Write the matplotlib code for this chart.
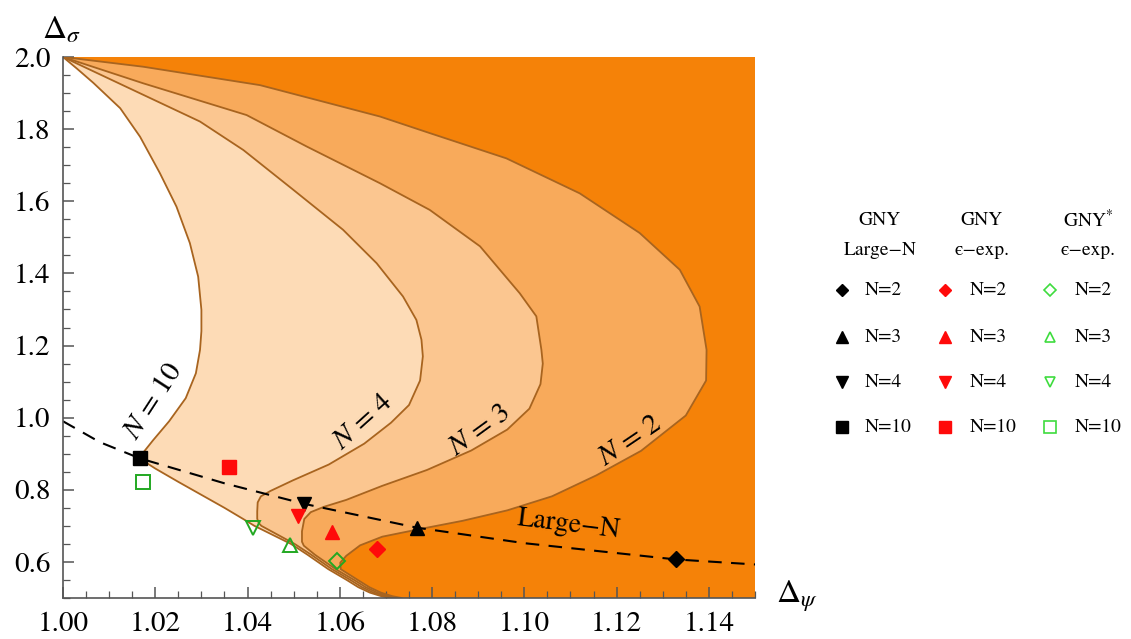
import matplotlib
matplotlib.use('Agg')
import matplotlib.pyplot as plt

plt.rcParams['mathtext.fontset'] = 'stix'
plt.rcParams['font.family'] = ['STIXGeneral', 'DejaVu Serif']

# ---------------- data ----------------
# bootstrap boundary curves (upper branch, then lower branch down to the axis)
n10_x = [1.0000, 1.0030, 1.0066, 1.0124, 1.0167, 1.0210, 1.0246, 1.0275, 1.0293, 1.0300,
         1.0300, 1.0297, 1.0288, 1.0266, 1.0230, 1.0195, 1.0175, 1.0167,
         1.0200, 1.0250, 1.0300, 1.0350, 1.0392, 1.0415, 1.0494, 1.0530, 1.0575, 1.0615,
         1.0640, 1.0665, 1.0690, 1.0710]
n10_y = [2.000, 1.968, 1.928, 1.858, 1.779, 1.678, 1.585, 1.484, 1.391, 1.299,
         1.240, 1.188, 1.123, 1.054, 0.990, 0.937, 0.905, 0.886,
         0.859, 0.822, 0.786, 0.750, 0.718, 0.700, 0.650, 0.620, 0.580, 0.550,
         0.530, 0.515, 0.505, 0.500]

n4_x = [1.0000, 1.0297, 1.0391, 1.0499, 1.0607, 1.0680, 1.0737, 1.0766, 1.0777, 1.0780,
        1.0774, 1.0750, 1.0711, 1.0653, 1.0576, 1.0498, 1.0450, 1.0429,
        1.0422, 1.0421, 1.0421, 1.0424, 1.0430, 1.0502, 1.0538, 1.0583, 1.0623, 1.0648,
        1.0673, 1.0698, 1.0718]
n4_y = [2.000, 1.821, 1.742, 1.632, 1.521, 1.428, 1.336, 1.271, 1.216, 1.170,
        1.103, 1.035, 0.986, 0.928, 0.870, 0.826, 0.797, 0.782,
        0.765, 0.740, 0.720, 0.708, 0.700, 0.650, 0.620, 0.580, 0.550, 0.530,
        0.515, 0.505, 0.500]

n3_x = [1.0000, 1.0174, 1.0398, 1.0528, 1.0687, 1.0795, 1.0904, 1.0990, 1.1026, 1.1037,
        1.1040, 1.1035, 1.1011, 1.0963, 1.0885, 1.0789, 1.0692, 1.0614, 1.0566, 1.0537,
        1.0523, 1.0518, 1.0518, 1.0522, 1.0546, 1.0591, 1.0631, 1.0656, 1.0681, 1.0706,
        1.0726]
n3_y = [2.000, 1.927, 1.839, 1.752, 1.650, 1.576, 1.475, 1.345, 1.281, 1.188,
        1.150, 1.093, 1.025, 0.967, 0.909, 0.855, 0.811, 0.772, 0.753, 0.738,
        0.719, 0.685, 0.656, 0.645, 0.620, 0.580, 0.550, 0.530, 0.515, 0.505,
        0.500]

n2_x = [1.0000, 1.0174, 1.0427, 1.0687, 1.0795, 1.0961, 1.1120, 1.1250, 1.1337, 1.1380,
        1.1395, 1.1394, 1.1350, 1.1253, 1.1156, 1.1060, 1.0963, 1.0866, 1.0769, 1.0692,
        1.0644, 1.0614, 1.0601, 1.0602, 1.0639, 1.0664, 1.0689, 1.0714, 1.0734]
n2_y = [2.000, 1.973, 1.922, 1.835, 1.789, 1.719, 1.622, 1.512, 1.410, 1.308,
        1.188, 1.103, 1.006, 0.908, 0.840, 0.782, 0.743, 0.714, 0.690, 0.670,
        0.646, 0.617, 0.598, 0.580, 0.550, 0.530, 0.515, 0.505, 0.500]

# large-N curve
largeN_curve_x = [1.0000, 1.0080, 1.0167, 1.0350, 1.0523, 1.0767, 1.1000, 1.1328, 1.1500]
largeN_curve_y = [0.990, 0.932, 0.887, 0.818, 0.761, 0.695, 0.652, 0.607, 0.593]

# estimates for N = 2, 3, 4, 10
N_labels = ['N=2', 'N=3', 'N=4', 'N=10']
largeN_x = [1.1328, 1.0767, 1.0522, 1.0167]
largeN_y = [0.607, 0.695, 0.760, 0.887]
eps_x = [1.0680, 1.0584, 1.0509, 1.0359]
eps_y = [0.635, 0.682, 0.728, 0.862]
epsstar_x = [1.0595, 1.0493, 1.0412, 1.0174]
epsstar_y = [0.602, 0.647, 0.694, 0.822]

x_ticks = [1.00, 1.02, 1.04, 1.06, 1.08, 1.10, 1.12, 1.14]
y_ticks = [0.6, 0.8, 1.0, 1.2, 1.4, 1.6, 1.8, 2.0]

# ---------------- style ----------------
W, H = 1131, 639
c_dark = '#F58208'
c_n2 = '#F8AA5B'
c_n3 = '#FBC690'
c_n4 = '#FDDBB6'
c_line = '#A8641F'
c_red = '#FF0A0A'
c_green = '#22A822'
c_green_leg = '#3EDC3E'
markers = ['D', '^', 'v', 's']
msizes = [8.5, 10, 10, 10.5]

fig = plt.figure(figsize=(W / 100, H / 100), dpi=100)
ax = fig.add_axes([63 / W, 1 - 598 / H, 692 / W, 541 / H])
ax.set_facecolor(c_dark)
ax.set_xlim(1.0, 1.15)
ax.set_ylim(0.5, 2.0)

for cx, cy, col in [(n2_x, n2_y, c_n2), (n3_x, n3_y, c_n3),
                    (n4_x, n4_y, c_n4), (n10_x, n10_y, 'white')]:
    px = list(cx) + [1.0, 1.0]
    py = list(cy) + [0.5, 2.0]
    ax.fill(px, py, color=col, lw=0, zorder=1)
for cx, cy in [(n2_x, n2_y), (n3_x, n3_y), (n4_x, n4_y), (n10_x, n10_y)]:
    ax.plot(cx, cy, color=c_line, lw=1.3, zorder=2, solid_joinstyle='round')

ax.plot(largeN_curve_x, largeN_curve_y, color='black', lw=1.5,
        dashes=(6.5, 4.5), zorder=3)

for i in range(4):
    ax.plot(largeN_x[i], largeN_y[i], marker=markers[i], color='black',
            ms=msizes[i], ls='none', zorder=5)
    ax.plot(eps_x[i], eps_y[i], marker=markers[i], color=c_red,
            ms=msizes[i], ls='none', zorder=5)
    ax.plot(epsstar_x[i], epsstar_y[i], marker=markers[i], mfc='none',
            mec=c_green, mew=1.4, ms=msizes[i] - 0.5, ls='none', zorder=5)

# curve labels
lab_kw = dict(fontsize=21, ha='center', va='center', rotation_mode='anchor', zorder=4)
ax.text(1.0198, 1.045, '$N$ = 10', rotation=57, **lab_kw)
ax.text(1.0652, 0.989, '$N$ = 4', rotation=42, **lab_kw)
ax.text(1.0904, 0.963, '$N$ = 3', rotation=36, **lab_kw)
ax.text(1.1229, 0.934, '$N$ = 2', rotation=34, **lab_kw)
ax.text(1.1096, 0.703, 'Large\u2212N', fontsize=20, ha='center', va='center',
        rotation=-7, rotation_mode='anchor', zorder=4)

# axes styling
for s in ['top', 'right']:
    ax.spines[s].set_visible(False)
for s in ['left', 'bottom']:
    ax.spines[s].set_color('#555555')
    ax.spines[s].set_linewidth(1.2)
    ax.spines[s].set_zorder(6)
ax.set_xticks(x_ticks)
ax.set_xticklabels([f'{v:.2f}' for v in x_ticks])
ax.set_yticks(y_ticks)
ax.set_yticklabels([f'{v:.1f}' for v in y_ticks])
ax.set_xticks([1.0 + 0.005 * k for k in range(31)], minor=True)
ax.set_yticks([0.5 + 0.05 * k for k in range(31)], minor=True)
ax.tick_params(which='both', direction='in', color='#555555', labelsize=21)
ax.tick_params(axis='x', which='both', pad=10)
ax.tick_params(axis='y', which='both', pad=9)
ax.tick_params(which='major', length=8, width=1.1)
ax.tick_params(which='minor', length=5, width=0.9)

fig.text(62 / W, 1 - 30 / H, r'$\Delta_\sigma$', fontsize=24, ha='center', va='center')
fig.text(797 / W, 1 - 596 / H, r'$\Delta_\psi$', fontsize=24, ha='center', va='center')

# ---------------- legend ----------------
lax = fig.add_axes([0, 0, 1, 1])
lax.set_xlim(0, W)
lax.set_ylim(H, 0)
lax.axis('off')
col_headers = [('GNY', 'Large\u2212N'), ('GNY', '\u03f5\u2212exp.'), ('GNY$^{*}$', '\u03f5\u2212exp.')]
head_x = [880, 982, 1088]
mark_x = [842, 945, 1050]
text_x = [865, 970, 1075]
row_y = [290, 337, 382, 427]
for j in range(3):
    lax.text(head_x[j], 220, col_headers[j][0], fontsize=14, ha='center', va='center')
    lax.text(head_x[j], 250, col_headers[j][1], fontsize=14, ha='center', va='center')
for i in range(4):
    lax.plot(mark_x[0], row_y[i], marker=markers[i], color='black', ms=msizes[i] - 2, ls='none')
    lax.plot(mark_x[1], row_y[i], marker=markers[i], color=c_red, ms=msizes[i] - 2, ls='none')
    lax.plot(mark_x[2], row_y[i], marker=markers[i], mfc='none', mec=c_green_leg,
             mew=1.2, ms=msizes[i] - 2.5, ls='none')
    for j in range(3):
        lax.text(text_x[j], row_y[i], N_labels[i], fontsize=14, ha='left', va='center')

fig.savefig('out.png', dpi=100)
